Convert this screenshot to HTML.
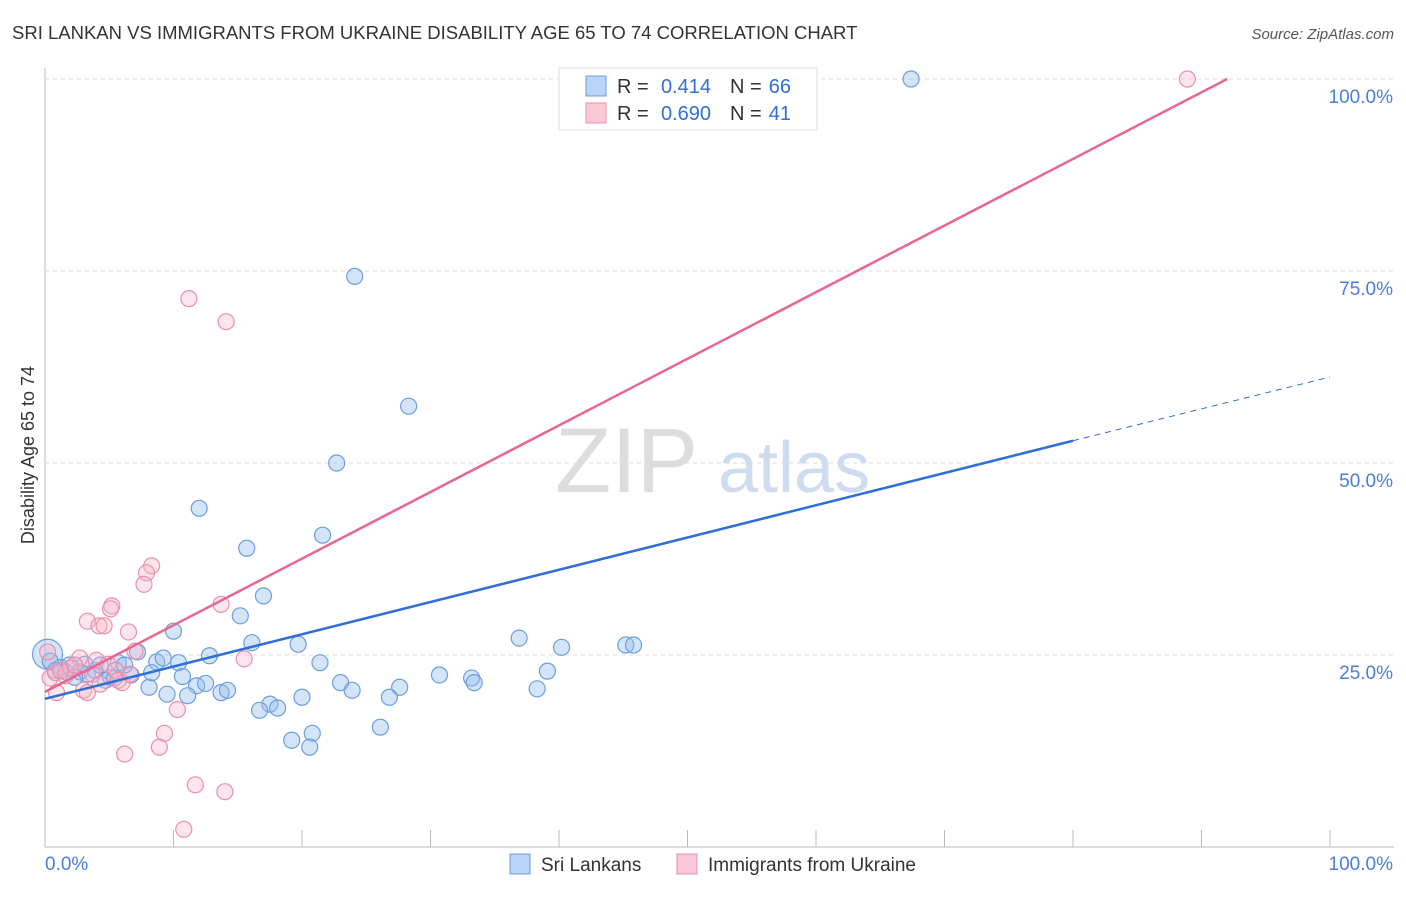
<!DOCTYPE html>
<html><head><meta charset="utf-8"><style>
body{margin:0;background:#fff;font-family:"Liberation Sans",sans-serif;}
svg text{font-family:"Liberation Sans",sans-serif;}
</style></head><body>
<svg id="chart" width="1406" height="892">
<text x="12" y="39" font-size="18.5" fill="#333">SRI LANKAN VS IMMIGRANTS FROM UKRAINE DISABILITY AGE 65 TO 74 CORRELATION CHART</text>
<text x="1394" y="39" font-size="15" fill="#555" text-anchor="end" font-style="italic">Source: ZipAtlas.com</text>
<text x="34" y="455" font-size="18" fill="#333" text-anchor="middle" transform="rotate(-90 34 455)">Disability Age 65 to 74</text>
<g id="grid"></g>
<text x="555" y="492" font-size="92" fill="#ddd" font-family="Liberation Serif">ZIP</text>
<text x="718" y="492" font-size="72" fill="#cfdcf0">atlas</text>
<g id="marks"></g>
<g>
<rect x="559" y="68" width="258" height="62" fill="#fff" stroke="#ddd"/>
<rect x="586" y="76" width="20" height="20" fill="#b8d4f6" stroke="#6c9de0"/>
<rect x="586" y="103" width="20" height="20" fill="#f9c8d6" stroke="#eb8fab"/>
<text x="617" y="93" font-size="20" fill="#333">R =</text>
<text x="711" y="93" font-size="20" fill="#2f6fd6" text-anchor="end">0.414</text>
<text x="730" y="93" font-size="20" fill="#333">N =</text>
<text x="791" y="93" font-size="20" fill="#2f6fd6" text-anchor="end">66</text>
<text x="617" y="120" font-size="20" fill="#333">R =</text>
<text x="711" y="120" font-size="20" fill="#2f6fd6" text-anchor="end">0.690</text>
<text x="730" y="120" font-size="20" fill="#333">N =</text>
<text x="791" y="120" font-size="20" fill="#2f6fd6" text-anchor="end">41</text>
</g>
<g>
<rect x="510" y="854" width="20" height="20" fill="#b8d4f6" stroke="#6c9de0"/>
<text x="541" y="871" font-size="19" fill="#333">Sri Lankans</text>
<rect x="677" y="854" width="20" height="20" fill="#f9c8d6" stroke="#eb8fab"/>
<text x="708" y="871" font-size="19" fill="#333">Immigrants from Ukraine</text>
</g>
</svg>
<script>
const yTicks=[25,50,75,100];
const yTickLabels=["25.0%","50.0%","75.0%","100.0%"];
const xTickLabels=["0.0%","100.0%"];
const blueX=[67.4,24.1,28.3,22.7,12.0,21.6,15.7,17.0,15.2,10.0,16.1,19.7,36.9,40.2,45.2,45.8,0.2,7.2,8.7,9.2,10.4,12.8,21.4,39.1,30.7,33.2,33.4,23.0,23.9,27.6,26.8,38.3,10.7,11.8,12.5,13.7,14.2,8.1,8.3,6.7,9.5,11.1,17.5,18.1,16.7,20.0,20.8,19.2,20.6,26.1,1.2,1.9,2.7,3.3,3.9,4.3,5.1,5.7,6.2,2.3,0.8,1.6,3.1,4.7,5.4,0.4];
const blueY=[100,74.3,57.4,50.0,44.1,40.6,38.9,32.7,30.1,28.1,26.6,26.4,27.2,26.0,26.3,26.3,25.1,25.4,24.1,24.6,24.0,24.9,24.0,22.9,22.4,22.0,21.4,21.4,20.4,20.8,19.5,20.6,22.2,21.0,21.3,20.1,20.4,20.8,22.7,22.4,19.9,19.7,18.6,18.1,17.8,19.5,14.8,13.9,13.0,15.6,23.4,23.7,22.8,22.5,23.0,23.7,22.1,24.0,23.7,22.1,23.0,22.8,23.8,21.7,22.0,24.2];
const pinkX=[88.9,11.2,14.1,8.3,7.9,7.7,5.2,5.1,13.7,3.3,4.2,4.6,6.5,7.0,15.5,2.7,4.0,4.9,10.3,9.3,8.9,6.2,11.7,14.0,10.8,6.0,3.0,3.3,0.9,0.4,0.8,1.6,2.0,2.3,1.2,3.7,5.5,5.7,0.2,4.3,6.6];
const pinkY=[100,71.4,68.4,36.6,35.7,34.2,31.4,31.0,31.6,29.4,28.8,28.8,28.0,25.5,24.5,24.6,24.3,23.8,17.9,14.8,13.0,12.1,8.1,7.2,2.3,21.4,20.4,20.1,20.1,22.0,22.7,22.3,23.3,23.7,23.0,22.5,23.0,21.7,25.4,21.2,22.5];
const blueLine=[19.3,52.9,61.2]; // at x=0, 80, 100
const pinkLine=[20.2,100,92];   // at x=0, y at end, x where y=100
const X=v=>45+v*12.85, Y=v=>847-v*7.68;
const NS="http://www.w3.org/2000/svg";
const grid=document.getElementById('grid'), marks=document.getElementById('marks');
function mk(tag,at,parent){const e=document.createElementNS(NS,tag);for(const k in at)e.setAttribute(k,at[k]);parent.appendChild(e);return e;}
const ax=mk('line',{x1:45,y1:68,x2:45,y2:847,stroke:'#bbb'},grid);


const bx=mk('line',{x1:45,y1:847,x2:1394,y2:847,stroke:'#bbb'},grid);


for(let i=1;i<=10;i++){const t=mk('line',{x1:X(i*10),y1:830,x2:X(i*10),y2:847,stroke:'#bbb'},grid);

}
yTicks.forEach((v,i)=>{const g=mk('line',{x1:45,y1:Y(v),x2:1394,y2:Y(v),stroke:'#ddd','stroke-dasharray':'4,4'},grid);


const t=mk('text',{x:1393,y:Y(v)+24,'font-size':19,fill:'#4a7fd4','text-anchor':'end'},grid);t.textContent=yTickLabels[i];

});
const xl0=mk('text',{x:45,y:870,'font-size':19,fill:'#4a7fd4'},grid);xl0.textContent=xTickLabels[0];


const xl1=mk('text',{x:1393,y:870,'font-size':19,fill:'#4a7fd4','text-anchor':'end'},grid);xl1.textContent=xTickLabels[1];


blueX.forEach((v,i)=>{const c=mk('circle',{cx:X(v),cy:Y(blueY[i]),r:i==16?15:8,fill:'rgba(150,190,240,0.4)',stroke:'#6c9de0','stroke-width':1.2},marks);

});
pinkX.forEach((v,i)=>{const c=mk('circle',{cx:X(v),cy:Y(pinkY[i]),r:8,fill:'rgba(248,180,200,0.35)',stroke:'#eb8fab','stroke-width':1.2},marks);

});
const bl=mk('line',{x1:X(0),y1:Y(blueLine[0]),x2:X(80),y2:Y(blueLine[1]),stroke:'#2f6fd6','stroke-width':2.5},marks);


const bd=mk('line',{x1:X(80),y1:Y(blueLine[1]),x2:X(100),y2:Y(blueLine[2]),stroke:'#2f6fd6','stroke-width':1,'stroke-dasharray':'6,5'},marks);


const pl=mk('line',{x1:X(0),y1:Y(pinkLine[0]),x2:X(pinkLine[2]),y2:Y(pinkLine[1]),stroke:'#e8668f','stroke-width':2.5},marks);


</script>
</body></html>
